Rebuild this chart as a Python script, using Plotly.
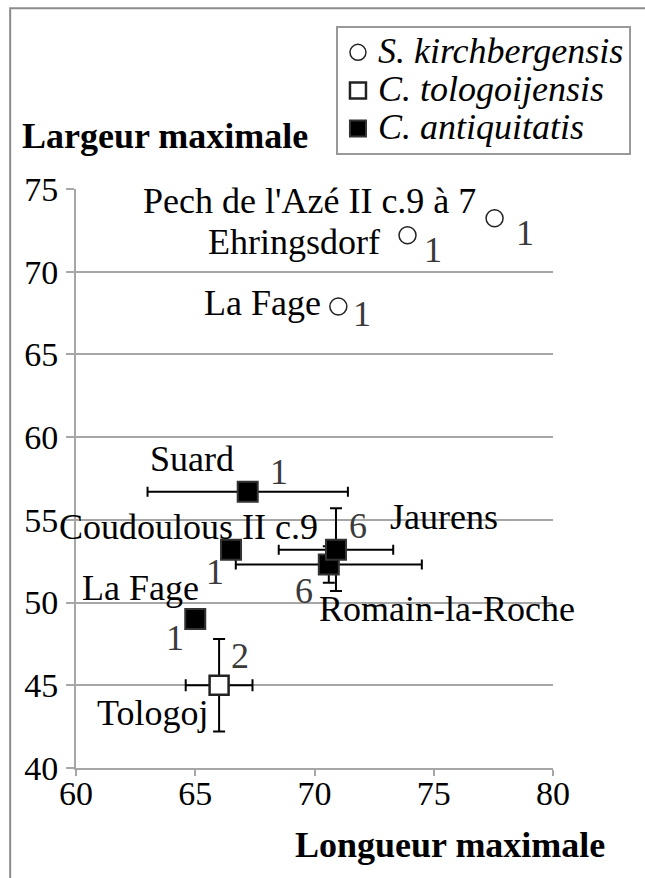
import plotly.graph_objects as go

# --- data -------------------------------------------------------------
# S. kirchbergensis
kir_sites = ["Pech de l'Azé II c.9 à 7", "Ehringsdorf", "La Fage"]
kir_x = [77.55, 73.9, 71.0]
kir_y = [73.23, 72.2, 67.9]
kir_n = [1, 1, 1]

# C. tologoijensis
tol_sites = ["Tologoj"]
tol_x = [66.0]
tol_y = [45.0]
tol_x_err = [1.4]
tol_y_err = [2.8]
tol_n = [2]

# C. antiquitatis
ant_sites = ["Suard", "Coudoulous II c.9", "Romain-la-Roche", "Jaurens", "La Fage"]
ant_x = [67.2, 66.5, 70.6, 70.9, 65.0]
ant_y = [56.7, 53.2, 52.3, 53.2, 49.0]
ant_x_err = [4.2, 0, 3.9, 2.4, 0]
ant_y_err = [0, 0, 1.1, 2.5, 0]
ant_n = [1, 1, 6, 6, 1]

# label placement (pixel offsets from the marker): name, count
kir_lab = [(-17, 17, "right"), (-26, -7, "right"), (-15, 3, "right")]
kir_cnt = [(30, -15), (25, -15), (24, -8)]
tol_lab = [(-9, -28, "right")]
tol_cnt = [(21, 29)]
ant_lab = [(-56, 33, "center"), (89, 23, "right"), (-12, -44, "left"),
           (52, 33, "left"), (6, 31, "right")]
ant_cnt = [(31, 20), (-16, -22), (-25, -26), (22, 24), (-20, -19)]

SERIF = "Liberation Serif"
GRID = "#a6a6a6"


def leg_name(s):
    # big italic text, but the legend row height follows the smaller legend font
    return f'<span style="font-size:36px"><i>{s}</i></span>'


fig = go.Figure()

fig.add_trace(go.Scatter(
    x=kir_x, y=kir_y, mode="markers",
    name=leg_name("S. kirchbergensis"),
    marker=dict(symbol="circle", size=17, color="white",
                line=dict(color="#222222", width=1.5)),
))
fig.add_trace(go.Scatter(
    x=tol_x, y=tol_y, mode="markers",
    name=leg_name("C. tologoijensis"),
    error_x=dict(type="data", array=tol_x_err, color="black", thickness=2, width=6),
    error_y=dict(type="data", array=tol_y_err, color="black", thickness=2, width=6),
    marker=dict(symbol="square", size=19, color="white",
                line=dict(color="#222222", width=2.5)),
))
fig.add_trace(go.Scatter(
    x=ant_x, y=ant_y, mode="markers",
    name=leg_name("C. antiquitatis"),
    error_x=dict(type="data", array=ant_x_err, color="black", thickness=2, width=5),
    error_y=dict(type="data", array=ant_y_err, color="black", thickness=2, width=6),
    marker=dict(symbol="square", size=20, color="black",
                line=dict(color="#333333", width=2)),
))

# site names and sample counts
groups = [
    (kir_sites, kir_x, kir_y, kir_n, kir_lab, kir_cnt),
    (tol_sites, tol_x, tol_y, tol_n, tol_lab, tol_cnt),
    (ant_sites, ant_x, ant_y, ant_n, ant_lab, ant_cnt),
]
for sites, xs, ys, ns, labs, cnts in groups:
    for s, x, y, n, (lx, ly, anc), (cx, cy) in zip(sites, xs, ys, ns, labs, cnts):
        fig.add_annotation(x=x, y=y, text=s, showarrow=False,
                           xanchor=anc, yanchor="middle", xshift=lx, yshift=ly,
                           font=dict(family=SERIF, size=36, color="black"))
        fig.add_annotation(x=x, y=y, text=str(n), showarrow=False,
                           xanchor="center", yanchor="middle", xshift=cx, yshift=cy,
                           font=dict(family=SERIF, size=36, color="#3a3a3a"))

# axis titles
fig.add_annotation(xref="paper", yref="paper", x=-0.117, y=1.091,
                   text="<b>Largeur maximale</b>", showarrow=False,
                   xanchor="left", yanchor="middle",
                   font=dict(family=SERIF, size=36, color="black"))
fig.add_annotation(xref="paper", yref="paper", x=1.113, y=-0.133,
                   text="<b>Longueur maximale</b>", showarrow=False,
                   xanchor="right", yanchor="middle",
                   font=dict(family=SERIF, size=36, color="black"))

# outer frame (cropped on the right and bottom)
fig.add_shape(type="rect", xref="paper", yref="paper",
              x0=-0.138, x1=1.3, y0=-0.4, y1=1.312,
              line=dict(color="#8c8c8c", width=2), layer="below")

fig.update_layout(
    width=645, height=878,
    paper_bgcolor="white", plot_bgcolor="white",
    margin=dict(l=76, r=92, t=189, b=110),
    font=dict(family=SERIF, size=34, color="black"),
    xaxis=dict(range=[60, 80], dtick=5, showgrid=False, zeroline=False,
               showline=True, linecolor=GRID, linewidth=2,
               ticks="outside", ticklen=6, tickcolor=GRID, tickwidth=2,
               ticklabelstandoff=-12,
               tickfont=dict(family=SERIF, size=34, color="black")),
    yaxis=dict(range=[40, 75], dtick=5, showgrid=True, gridcolor=GRID, gridwidth=2,
               zeroline=False, showline=True, linecolor=GRID, linewidth=2,
               ticks="outside", ticklen=8, tickcolor=GRID, tickwidth=2,
               ticklabelstandoff=1,
               tickfont=dict(family=SERIF, size=34, color="black")),
    legend=dict(x=0.545, y=1.281, xanchor="left", yanchor="top",
                bgcolor="white", bordercolor="#999999", borderwidth=2,
                font=dict(family=SERIF, size=27, color="black"),
                itemwidth=30, tracegroupgap=0),
    showlegend=True,
)

fig.write_html("out.html", config={"displayModeBar": False},
               post_script="document.body.style.margin='0';")
